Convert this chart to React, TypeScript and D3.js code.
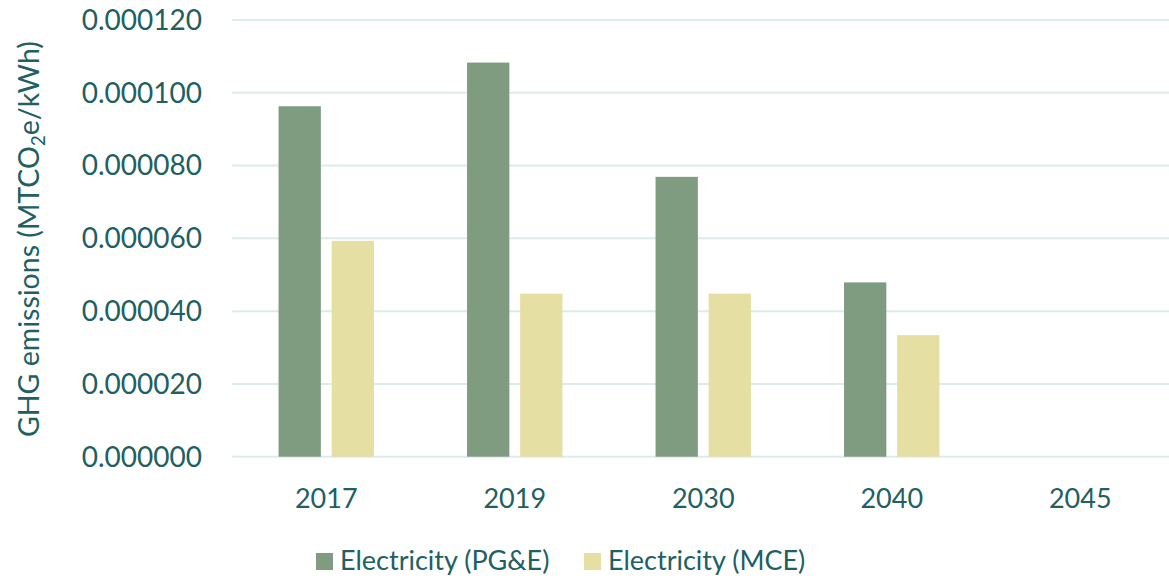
import React from "react";
import * as d3 from "d3";

const categories = ["2017", "2019", "2030", "2040", "2045"];
const pgeValues = [0.0000963, 0.0001083, 0.0000769, 0.0000479, 0];
const mceValues = [0.0000593, 0.0000448, 0.0000448, 0.0000334, 0];
const seriesNames = ["Electricity (PG&E)", "Electricity (MCE)"];
const seriesColors = ["#7f9b80", "#e5dfa3"];
const yTicks = [0, 0.00002, 0.00004, 0.00006, 0.00008, 0.0001, 0.00012];

const W = 1169;
const H = 579;
const textColor = "#215f63";
const font = "Lato, 'Open Sans', sans-serif";

export default function App() {
  const left = 232;
  const band = 188.5;
  const x = d3
    .scaleBand<string>()
    .domain(categories)
    .range([left, left + band * categories.length])
    .paddingInner(0)
    .paddingOuter(0);
  const y = d3.scaleLinear().domain([0, 0.00012]).range([456.7, 20]);
  const barW = 42.3;
  const gap = 10.8;
  const series = [pgeValues, mceValues];

  return (
    <svg
      width={W}
      height={H}
      style={{ position: "absolute", left: 0, top: 0, background: "#fff" }}
      fontFamily={font}
    >
      {yTicks.map((t) => (
        <g key={t}>
          <line
            x1={left}
            x2={W}
            y1={y(t)}
            y2={y(t)}
            stroke="#dcecec"
            strokeWidth={2}
          />
          <text
            x={202}
            y={y(t)}
            dy="0.35em"
            textAnchor="end"
            fontSize={28}
            fill={textColor}
          >
            {d3.format(".6f")(t)}
          </text>
        </g>
      ))}
      {categories.map((c, i) => {
        const cx = (x(c) as number) + x.bandwidth() / 2;
        const groupW = barW * 2 + gap;
        return (
          <g key={c}>
            {series.map((vals, s) => {
              const v = vals[i];
              if (v <= 0) return null;
              const bx = cx - groupW / 2 + s * (barW + gap);
              return (
                <rect
                  key={s}
                  x={bx}
                  y={y(v)}
                  width={barW}
                  height={y(0) - y(v)}
                  fill={seriesColors[s]}
                />
              );
            })}
            <text
              x={cx}
              y={508}
              textAnchor="middle"
              fontSize={27}
              fill={textColor}
            >
              {c}
            </text>
          </g>
        );
      })}
      <text
        transform={`translate(39, 239) rotate(-90)`}
        textAnchor="middle"
        fontSize={28.5}
        fill={textColor}
      >
        GHG emissions (MTCO
        <tspan fontSize={19} dy={6}>
          2
        </tspan>
        <tspan dy={-6}>e/kWh)</tspan>
      </text>
      {seriesNames.map((n, s) => {
        const lx = s === 0 ? 316 : 584;
        return (
          <g key={n}>
            <rect x={lx} y={553} width={17} height={17} fill={seriesColors[s]} />
            <text x={lx + 24} y={570} fontSize={27} fill={textColor}>
              {n}
            </text>
          </g>
        );
      })}
    </svg>
  );
}
